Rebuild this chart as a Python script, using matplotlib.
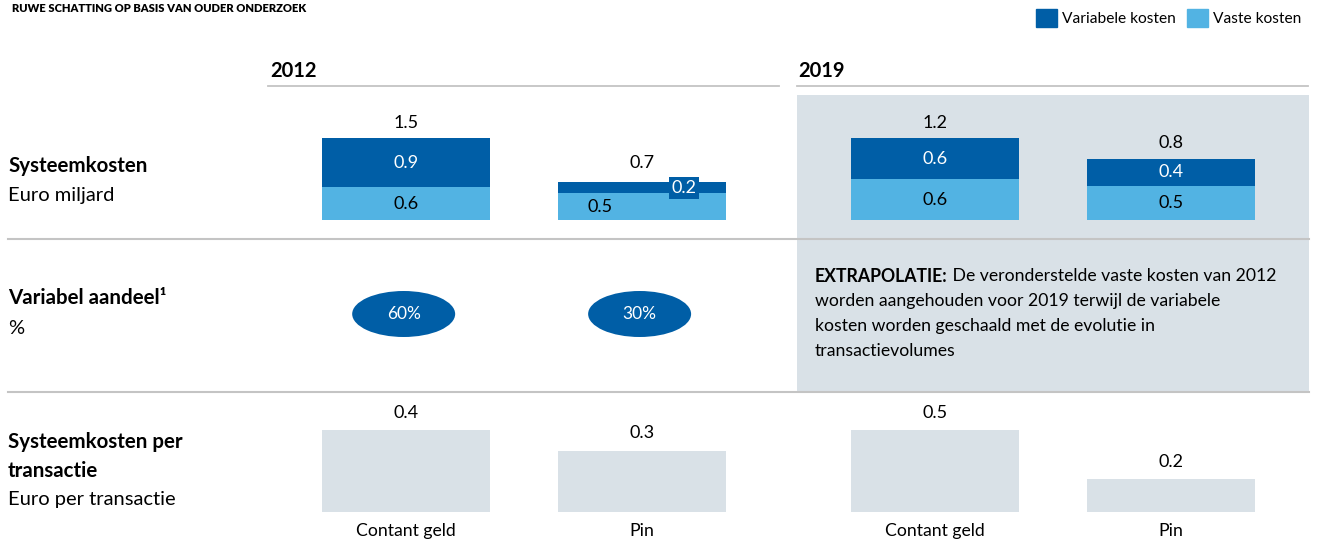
import matplotlib
matplotlib.use("Agg")
import matplotlib.pyplot as plt
from matplotlib.patches import Ellipse, Rectangle, Patch

# ---------------- data ----------------
years = ["2012", "2019"]
methods = ["Contant geld", "Pin"]
fixed_2012 = [0.6, 0.5]
variable_2012 = [0.9, 0.2]
total_2012 = [1.5, 0.7]
fixed_2019 = [0.6, 0.5]
variable_2019 = [0.6, 0.4]
total_2019 = [1.2, 0.8]
variable_share_2012 = [60, 30]
per_tx_2012 = [0.4, 0.3]
per_tx_2019 = [0.5, 0.2]

row_titles = ["Systeemkosten", "Variabel aandeel¹", "Systeemkosten per", "transactie"]
row_units = ["Euro miljard", "%", "Euro per transactie"]
title = "RUWE SCHATTING OP BASIS VAN OUDER ONDERZOEK"
note_bold = "EXTRAPOLATIE:"
note_lines = [" De veronderstelde vaste kosten van 2012",
              "worden aangehouden voor 2019 terwijl de variabele",
              "kosten worden geschaald met de evolutie in",
              "transactievolumes"]

DARK = "#005EA6"
LIGHT = "#52B3E3"
GREY = "#D9E1E7"
LINE = "#C4C4C4"
FONT = "Lato"

W, H = 1319, 543
fig = plt.figure(figsize=(W / 100, H / 100), dpi=100)
plt.rcParams["font.family"] = [FONT, "DejaVu Sans"]

bg = fig.add_axes([0, 0, 1, 1])
bg.set_xlim(0, W)
bg.set_ylim(H, 0)
bg.axis("off")


def px_axes(x0, y_top, w, h):
    ax = fig.add_axes([x0 / W, 1 - (y_top + h) / H, w / W, h / H])
    ax.axis("off")
    ax.patch.set_visible(False)
    return ax


# background elements
bg.add_patch(Rectangle((797, 95), 512, 296, color=GREY, lw=0, zorder=0))
bg.plot([268, 779], [86, 86], color=LINE, lw=1.3)
bg.plot([797, 1308], [86, 86], color=LINE, lw=1.3)
bg.plot([8, 1309], [238.5, 238.5], color=LINE, lw=1.5, zorder=2)
bg.plot([8, 1309], [391.5, 391.5], color=LINE, lw=1.5, zorder=2)

bg.text(12, 9, title, fontsize=8.0, fontweight="heavy", va="center", ha="left")
bg.text(270, 71, years[0], fontsize=14.5, fontweight="bold", va="center")
bg.text(798, 71, years[1], fontsize=14.5, fontweight="bold", va="center")

# row labels
bg.text(8, 166, row_titles[0], fontsize=14.8, fontweight="bold", va="center")
bg.text(8, 195, row_units[0], fontsize=14.5, va="center")
bg.text(8, 298, row_titles[1], fontsize=14.8, fontweight="bold", va="center")
bg.text(8, 328, row_units[1], fontsize=14.5, va="center")
bg.text(8, 442, row_titles[2], fontsize=14.8, fontweight="bold", va="center")
bg.text(8, 471, row_titles[3], fontsize=14.8, fontweight="bold", va="center")
bg.text(8, 500, row_units[2], fontsize=14.5, va="center")

# legend
handles = [Patch(color=DARK, label="Variabele kosten"), Patch(color=LIGHT, label="Vaste kosten")]
fig.legend(handles=handles, loc="upper right", bbox_to_anchor=(1311 / W, 1 + 0 / H),
           ncol=2, frameon=False, fontsize=11.2, handlelength=1.35, handleheight=1.35,
           handletextpad=0.35, columnspacing=0.7, borderaxespad=0.2)

# note text
fig.canvas.draw()
r = fig.canvas.get_renderer()
tb = bg.text(815, 276, note_bold, fontsize=12.7, fontweight="bold", va="center")
bb = tb.get_window_extent(renderer=r)
inv = bg.transData.inverted()
x_end = inv.transform((bb.x1, bb.y0))[0]
bg.text(x_end, 276, note_lines[0], fontsize=12.7, va="center")
for k, line in enumerate(note_lines[1:], start=1):
    bg.text(815, 276 + 25 * k, line, fontsize=12.7, va="center")

# geometry of columns
col_x = [268, 797]
col_w = 512
XL = (-0.585, 1.585)
BW = 0.712
PT = 72 / 100  # pixels -> points

stack_data = [(fixed_2012, variable_2012, total_2012), (fixed_2019, variable_2019, total_2019)]
per_tx = [per_tx_2012, per_tx_2019]

for c, (fixed, variable, total) in enumerate(stack_data):
    # ---- row 1: stacked cost bars
    ax = px_axes(col_x[c], 138, col_w, 82)
    x = list(range(len(methods)))
    stacks = [f + v for f, v in zip(fixed, variable)]
    ax.set_xlim(*XL)
    ax.set_ylim(0, max(stacks))
    ax.bar(x, fixed, width=BW, color=LIGHT, lw=0)
    ax.bar(x, variable, bottom=fixed, width=BW, color=DARK, lw=0)
    for i in x:
        seg_px = variable[i] / max(stacks) * 82
        thin = seg_px < 18
        extra = 4 if thin else 0
        ax.annotate(f"{total[i]}", (i, stacks[i]), xytext=(0, (15 + extra) * PT),
                    textcoords="offset points", ha="center", va="center",
                    fontsize=13, annotation_clip=False)
        if thin:
            ax.annotate(f"{fixed[i]}", (i, fixed[i] / 2), xytext=(-42 * PT, -1 * PT),
                        textcoords="offset points", ha="center", va="center",
                        fontsize=13, color="black")
            ax.annotate(f"{variable[i]}", (i, fixed[i] + variable[i] / 2),
                        xytext=(42 * PT, -1 * PT), textcoords="offset points",
                        ha="center", va="center", fontsize=13, color="white",
                        bbox=dict(boxstyle="square,pad=0.15", fc=DARK, ec="none"))
        else:
            ax.text(i, fixed[i] / 2, f"{fixed[i]}", ha="center", va="center",
                    fontsize=13, color="black")
            ax.text(i, fixed[i] + variable[i] / 2, f"{variable[i]}", ha="center",
                    va="center", fontsize=13, color="white")

    # ---- row 3: cost per transaction
    ax3 = px_axes(col_x[c], 430, col_w, 82)
    ax3.set_xlim(*XL)
    ax3.set_ylim(0, max(per_tx[c]))
    ax3.bar(x, per_tx[c], width=BW, color=GREY, lw=0)
    for i in x:
        ax3.annotate(f"{per_tx[c][i]}", (i, per_tx[c][i]), xytext=(0, 17 * PT),
                     textcoords="offset points", ha="center", va="center",
                     fontsize=13, annotation_clip=False)
        ax3.annotate(methods[i], (i, 0), xytext=(0, -19 * PT),
                     textcoords="offset points", ha="center", va="center",
                     fontsize=12.7, annotation_clip=False)

# ---- row 2: variable share ovals (2012 only)
ax2 = px_axes(col_x[0], 291, col_w, 46)
ax2.set_xlim(*XL)
ax2.set_ylim(0, 1)
for i, s in enumerate(variable_share_2012):
    ax2.add_patch(Ellipse((i - 0.01, 0.5), 103 / 236, 1.0, color=DARK, lw=0))
    ax2.text(i - 0.01, 0.5, f"{s}%", ha="center", va="center", fontsize=12.5, color="white")

fig.savefig("out.png", dpi=100)
